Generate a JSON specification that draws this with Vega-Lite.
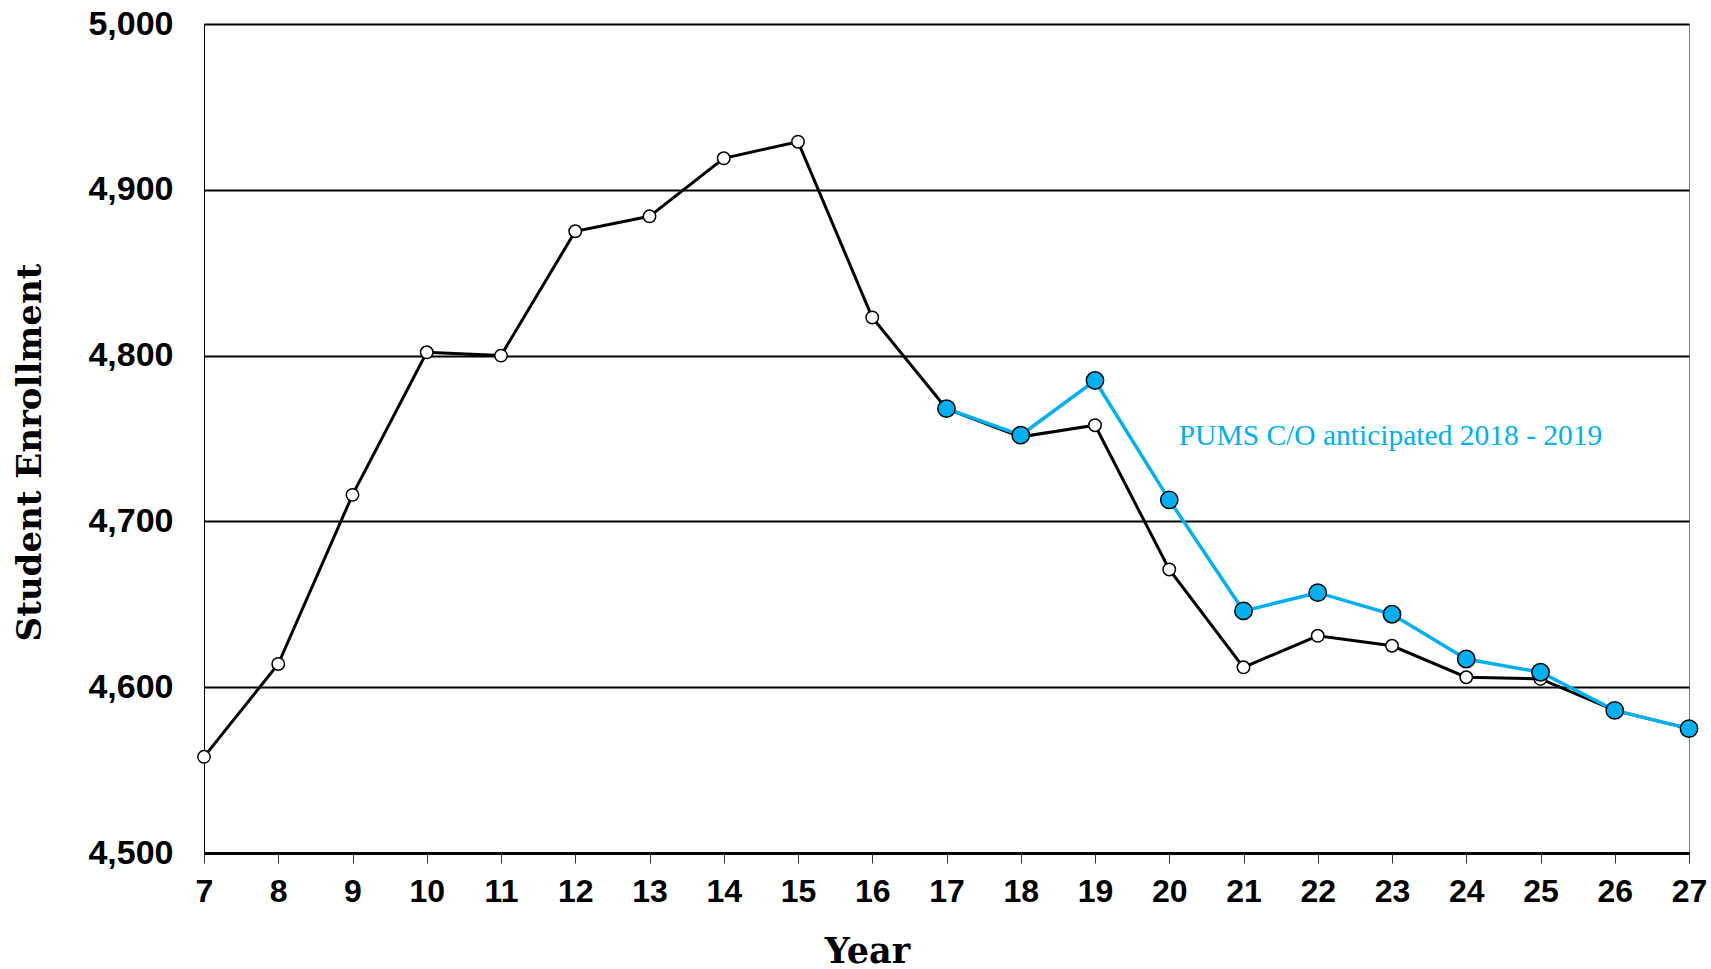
{
  "$schema": "https://vega.github.io/schema/vega-lite/v6.json",
  "width": 1485,
  "height": 829,
  "autosize": {"type": "none"},
  "padding": {"left": 204, "top": 24, "right": 22, "bottom": 116},
  "background": "white",
  "config": {
    "view": {"stroke": "#808080", "strokeWidth": 1}
  },
  "datasets": {
    "enroll": [
      {"year": 7, "value": 4558, "series": "Actual"},
      {"year": 8, "value": 4614, "series": "Actual"},
      {"year": 9, "value": 4716, "series": "Actual"},
      {"year": 10, "value": 4802, "series": "Actual"},
      {"year": 11, "value": 4800, "series": "Actual"},
      {"year": 12, "value": 4875, "series": "Actual"},
      {"year": 13, "value": 4884, "series": "Actual"},
      {"year": 14, "value": 4919, "series": "Actual"},
      {"year": 15, "value": 4929, "series": "Actual"},
      {"year": 16, "value": 4823, "series": "Actual"},
      {"year": 17, "value": 4768, "series": "Actual"},
      {"year": 18, "value": 4751, "series": "Actual"},
      {"year": 19, "value": 4758, "series": "Actual"},
      {"year": 20, "value": 4671, "series": "Actual"},
      {"year": 21, "value": 4612, "series": "Actual"},
      {"year": 22, "value": 4631, "series": "Actual"},
      {"year": 23, "value": 4625, "series": "Actual"},
      {"year": 24, "value": 4606, "series": "Actual"},
      {"year": 25, "value": 4605, "series": "Actual"},
      {"year": 26, "value": 4586, "series": "Actual"},
      {"year": 27, "value": 4575, "series": "Actual"},
      {"year": 17, "value": 4768, "series": "PUMS"},
      {"year": 18, "value": 4752, "series": "PUMS"},
      {"year": 19, "value": 4785, "series": "PUMS"},
      {"year": 20, "value": 4713, "series": "PUMS"},
      {"year": 21, "value": 4646, "series": "PUMS"},
      {"year": 22, "value": 4657, "series": "PUMS"},
      {"year": 23, "value": 4644, "series": "PUMS"},
      {"year": 24, "value": 4617, "series": "PUMS"},
      {"year": 25, "value": 4609, "series": "PUMS"},
      {"year": 26, "value": 4586, "series": "PUMS"},
      {"year": 27, "value": 4575, "series": "PUMS"}
    ],
    "note": [
      {"year": 22.98, "value": 4746, "label": "PUMS C/O anticipated 2018 - 2019"}
    ]
  },
  "data": {"name": "enroll"},
  "encoding": {
    "x": {
      "field": "year",
      "type": "quantitative",
      "scale": {"domain": [7, 27], "nice": false, "zero": false},
      "axis": {
        "title": "Year",
        "values": [7,8,9,10,11,12,13,14,15,16,17,18,19,20,21,22,23,24,25,26,27],
        "grid": false,
        "domainColor": "black",
        "domainWidth": 3,
        "ticks": true,
        "tickColor": "#333333",
        "tickWidth": 1,
        "tickSize": 10,
        "labelFont": "Liberation Sans",
        "labelFontWeight": "bold",
        "labelFontSize": 32,
        "labelColor": "black",
        "labelPadding": 13,
        "labelFlush": false,
        "labelOverlap": false,
        "titleFont": "DejaVu Serif",
        "titleFontWeight": "bold",
        "titleFontSize": 35,
        "titleColor": "black",
        "titleX": 663,
        "titleY": 109,
        "titleBaseline": "alphabetic",
        "titleAlign": "center"
      }
    },
    "y": {
      "field": "value",
      "type": "quantitative",
      "scale": {"domain": [4500, 5000], "nice": false, "zero": false},
      "axis": {
        "title": "Student Enrollment",
        "values": [4500, 4600, 4700, 4800, 4900, 5000],
        "format": ",d",
        "grid": true,
        "gridColor": "black",
        "gridWidth": 2,
        "gridOpacity": 1,
        "domainColor": "black",
        "domainWidth": 1,
        "ticks": false,
        "labelFont": "Liberation Sans",
        "labelFontWeight": "bold",
        "labelFontSize": 34,
        "labelColor": "black",
        "labelPadding": 31,
        "titleFont": "DejaVu Serif",
        "titleFontWeight": "bold",
        "titleFontSize": 34,
        "titleColor": "black",
        "titleAngle": -90,
        "titleX": -174,
        "titleY": 428,
        "titleBaseline": "middle",
        "titleAlign": "center"
      }
    }
  },
  "layer": [
    {
      "transform": [{"filter": "datum.series === 'Actual'"}],
      "mark": {"type": "line", "color": "black", "strokeWidth": 3, "clip": false}
    },
    {
      "transform": [{"filter": "datum.series === 'Actual'"}],
      "mark": {"type": "point", "shape": "circle", "filled": true, "fill": "white", "stroke": "black", "strokeWidth": 1.5, "size": 155, "opacity": 1, "clip": false}
    },
    {
      "transform": [{"filter": "datum.series === 'PUMS'"}],
      "mark": {"type": "line", "color": "#00B0F0", "strokeWidth": 3.5, "clip": false}
    },
    {
      "transform": [{"filter": "datum.series === 'PUMS'"}],
      "mark": {"type": "point", "shape": "circle", "filled": true, "fill": "#00B0F0", "stroke": "black", "strokeWidth": 1.5, "size": 300, "opacity": 1, "clip": false}
    },
    {
      "data": {"name": "note"},
      "mark": {"type": "text", "font": "Liberation Serif", "fontSize": 29.5, "color": "#00B0F0", "align": "center", "baseline": "alphabetic"},
      "encoding": {
        "text": {"field": "label"}
      }
    }
  ]
}
